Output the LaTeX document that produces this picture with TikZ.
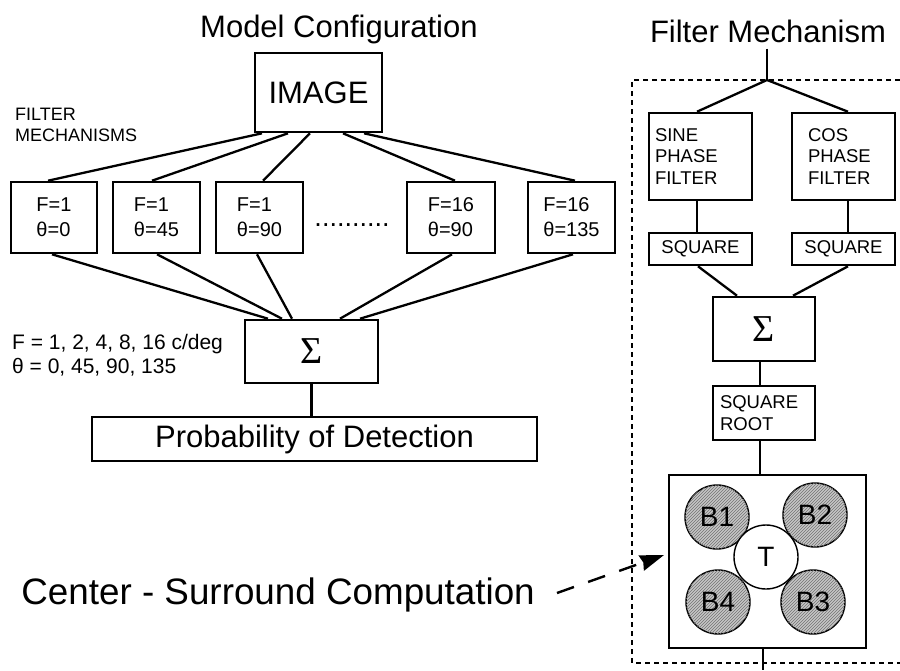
\documentclass[tikz,border=0pt]{standalone}
\usepackage{fontspec}
\setmainfont{Liberation Sans}
\newfontfamily\symfont{Liberation Serif}
\usetikzlibrary{patterns,arrows.meta}
\begin{document}
\begin{tikzpicture}[x=1pt,y=-1pt,
  bx/.style={draw,line width=2.6pt,inner sep=0pt,align=center},
  link/.style={line width=2.3pt},
  fbox/.style={bx,minimum width=87pt,minimum height=71pt,font=\fontsize{20}{25}\selectfont,align=left},
  small/.style={font=\fontsize{18.5}{21.5}\selectfont},
  title/.style={inner sep=0pt,font=\fontsize{31}{36}\selectfont},
  sigma/.style={font=\symfont\fontsize{38}{40}\selectfont},
  bcirc/.style={circle,draw,line width=1.4pt,minimum size=64pt,inner sep=0pt,
    font=\fontsize{28}{30}\selectfont,fill=gray!45,
    postaction={pattern=north east lines,pattern color=black!55}},
  tcirc/.style={circle,draw,line width=1.4pt,minimum size=64pt,inner sep=0pt,
    font=\fontsize{28}{30}\selectfont,fill=white},
  frame/.style={line width=1.3pt,dash pattern=on 5pt off 4pt},
  darrow/.style={line width=2.4pt,dash pattern=on 18pt off 15pt,
    -{Stealth[length=24pt,width=16pt,inset=2pt]}},
]
\useasboundingbox (0,0) rectangle (900,670);

% ---------- left: model configuration ----------
\node[title,anchor=base west] (t1) at (200,37) {Model Configuration};
\node[bx,minimum width=127pt,minimum height=79pt,font=\fontsize{31}{36}\selectfont] (img) at (318.5,92.5) {IMAGE};
\node[anchor=west,inner sep=0pt,align=left,font=\fontsize{18}{21}\selectfont] (fmlab) at (15,125) {FILTER\\MECHANISMS};

\node[fbox,minimum width=86pt] (f1) at (54,217.5) {F=1\\θ=0};
\node[fbox] (f2) at (156.5,217.5) {F=1\\θ=45};
\node[fbox] (f3) at (259.5,217.5) {F=1\\θ=90};
\node[anchor=base,inner sep=0pt,font=\fontsize{27}{30}\selectfont] (dots) at (352,226) {..........};
\node[fbox,minimum width=88pt] (f4) at (451,217.5) {F=16\\θ=90};
\node[fbox] (f5) at (571.5,217.5) {F=16\\θ=135};

\node[bx,minimum width=133pt,minimum height=63pt,sigma] (sum) at (311.5,351.5) {Σ};
\node[anchor=west,inner sep=0pt,align=left,font=\fontsize{21}{24}\selectfont] (par) at (12,355) {F = 1, 2, 4, 8, 16 c/deg\\θ = 0, 45, 90, 135};
\node[bx,minimum width=445pt,minimum height=44pt,font=\fontsize{31}{36}\selectfont] (prob) at (314.5,439) {Probability of Detection};

\draw[link] (262,0 |- img.south) -- (48,0 |- f1.north);
\draw[link] (288,0 |- img.south) -- (152,0 |- f2.north);
\draw[link] (310,0 |- img.south) -- (263,0 |- f3.north);
\draw[link] (343,0 |- img.south) -- (455,0 |- f4.north);
\draw[link] (364,0 |- img.south) -- (575,0 |- f5.north);

\draw[link] (52,0 |- f1.south) -- (268,0 |- sum.north);
\draw[link] (157,0 |- f2.south) -- (282,0 |- sum.north);
\draw[link] (257,0 |- f3.south) -- (292,0 |- sum.north);
\draw[link] (452,0 |- f4.south) -- (340,0 |- sum.north);
\draw[link] (573,0 |- f5.south) -- (360,0 |- sum.north);
\draw[link] (sum.south) -- (sum.south |- prob.north);

% ---------- right: filter mechanism ----------
\node[title,anchor=base,inner ysep=6pt] (t2) at (768,42) {Filter Mechanism};
\coordinate (split) at (767,80);
\draw[frame] (900,80) -- (632,80) -- (632,663) -- (900,663);

\node[bx,small,minimum height=87pt,text width=91pt,inner xsep=6pt,align=left] (sine) at (700.5,156.5) {SINE\\PHASE\\FILTER};
\node[bx,small,minimum height=87pt,text width=71pt,inner xsep=16pt,align=left] (cos) at (843.5,156.5) {COS\\PHASE\\FILTER};
\node[bx,small,minimum width=103pt,minimum height=32pt] (sq1) at (700.5,249) {SQUARE};
\node[bx,small,minimum width=103pt,minimum height=32pt] (sq2) at (843.5,249) {SQUARE};
\node[bx,sigma,minimum width=102pt,minimum height=64pt] (sum2) at (764,329) {Σ};
\node[bx,small,minimum height=54pt,text width=88pt,inner xsep=7pt,align=left] (sqrt) at (764,413) {SQUARE\\ROOT};
\node[bx,minimum width=197pt,minimum height=173pt] (cs) at (767.5,561.5) {};

\node[bcirc] (b1) at (717,517) {B1};
\node[bcirc] (b2) at (815,515) {B2};
\node[bcirc] (b4) at (718,602) {B4};
\node[bcirc] (b3) at (813,602) {B3};
\node[tcirc] (tc) at (766,557) {T};

\draw[link] (t2.south -| split) -- (split);
\draw[link] (split) -- (697,0 |- sine.north);
\draw[link] (split) -- (848,0 |- cos.north);
\draw[link] (697,0 |- sine.south) -- (697,0 |- sq1.north);
\draw[link] (848,0 |- cos.south) -- (848,0 |- sq2.north);
\draw[link] (698,0 |- sq1.south) -- (737,0 |- sum2.north);
\draw[link] (848,0 |- sq2.south) -- (793,0 |- sum2.north);
\draw[link] (760,0 |- sum2.south) -- (760,0 |- sqrt.north);
\draw[link] (760,0 |- sqrt.south) -- (760,0 |- cs.north);
\coordinate (outb) at (763,670);
\draw[link] (763,0 |- cs.south) -- (outb);

% ---------- center-surround label ----------
\node[anchor=base east,inner sep=0pt,font=\fontsize{36.8}{42}\selectfont] (cst) at (535,604) {Center - Surround Computation};
\coordinate (atail) at (557,593);
\coordinate (ahead) at (664,555);
\draw[darrow] (atail) -- (ahead);
\end{tikzpicture}
\end{document}
